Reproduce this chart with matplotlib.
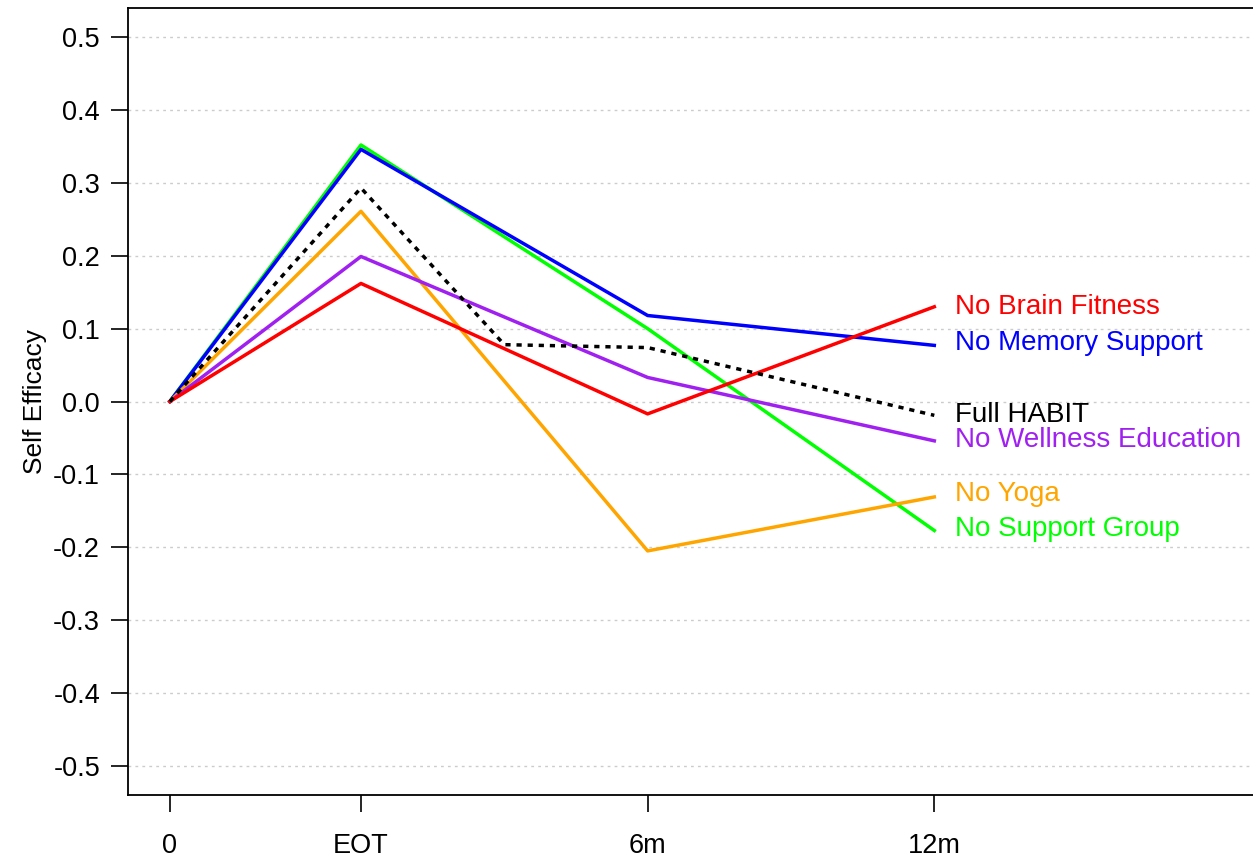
import matplotlib
matplotlib.use('Agg')
import matplotlib.pyplot as plt
import numpy as np

plt.rcParams['font.family'] = ['Liberation Sans', 'DejaVu Sans']

# time points (EOT = end of treatment)
x_pos = [0, 2, 5, 8]
x_labels = ['0', 'EOT', '6m', '12m']

# Full HABIT has an extra bend between EOT and 6m
full_x = [0, 2, 3.5, 5, 8]
full_habit = [0, 0.293, 0.078, 0.074, -0.019]

no_support_group = [0, 0.352, 0.100, -0.177]
no_memory_support = [0, 0.346, 0.118, 0.077]
no_yoga = [0, 0.261, -0.205, -0.131]
no_wellness_education = [0, 0.199, 0.033, -0.054]
no_brain_fitness = [0, 0.162, -0.017, 0.130]

series = [
    ('No Support Group', no_support_group, '#00FF00'),
    ('No Memory Support', no_memory_support, '#0000FF'),
    ('No Yoga', no_yoga, '#FFA500'),
    ('No Wellness Education', no_wellness_education, '#A020F0'),
    ('No Brain Fitness', no_brain_fitness, '#FF0000'),
]

fig = plt.figure(figsize=(12.53, 8.58), dpi=100)
ax = fig.add_axes([0.102, 0.0734, 0.906, 0.9173])

yticks = np.round(np.arange(-0.5, 0.51, 0.1), 1)
for yv in yticks:
    ax.axhline(yv, color='#cccccc', lw=1.0, linestyle=(0, (2, 3)), zorder=0)

for name, vals, col in series:
    ax.plot(x_pos, vals, color=col, lw=2.5, zorder=2)

ax.plot(full_x, full_habit, color='black', lw=2.5, linestyle=(0, (1.5, 1.7)), zorder=3)

# labels at the right end of each line
label_y = {
    'No Brain Fitness': 0.130,
    'No Memory Support': 0.080,
    'Full HABIT': -0.019,
    'No Wellness Education': -0.053,
    'No Yoga': -0.127,
    'No Support Group': -0.175,
}
label_col = {name: col for name, _, col in series}
label_col['Full HABIT'] = 'black'
for name, yv in label_y.items():
    ax.text(8.22, yv, name, color=label_col[name], fontsize=20, va='center', ha='left')

ax.set_xlim(-0.44, 11.44)
ax.set_ylim(-0.54, 0.54)
ax.set_xticks(x_pos)
ax.set_xticklabels(x_labels)
ax.set_yticks(yticks)
ax.set_yticklabels(['%.1f' % (v + 0.0) if abs(v) > 1e-9 else '0.0' for v in yticks])
ax.tick_params(axis='both', length=12, width=1.2, labelsize=19.5, direction='out')
ax.tick_params(axis='x', pad=15)
ax.tick_params(axis='y', pad=8)
ax.set_ylabel('Self Efficacy', fontsize=19, labelpad=4)
for sp in ax.spines.values():
    sp.set_linewidth(1.3)

fig.savefig('out.png', dpi=100)
